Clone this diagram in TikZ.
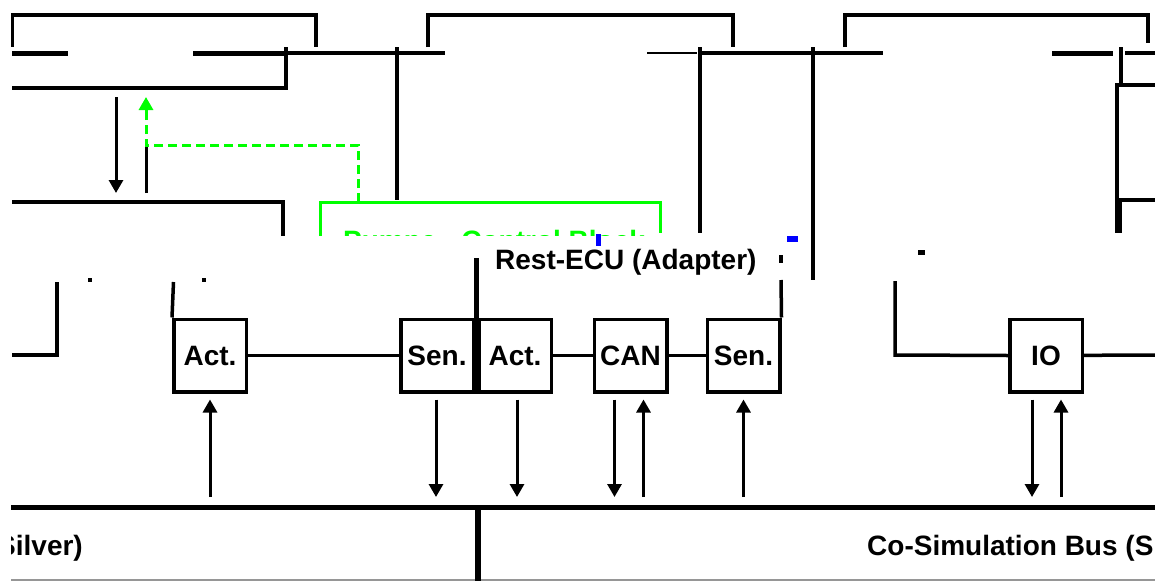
\documentclass[tikz,border=0pt]{standalone}
\usepackage{fontspec}
\setmainfont{Liberation Sans}
\usetikzlibrary{arrows.meta}
\definecolor{lime}{RGB}{0,255,0}
\definecolor{busgray}{RGB}{150,150,150}
\begin{document}
\begin{tikzpicture}[x=1pt,y=-1pt,
  lbl/.style={font=\bfseries\fontsize{28}{30}\selectfont},
  box/.style={draw,line width=3.5pt,minimum width=72.5pt,minimum height=72.5pt,inner sep=0pt,lbl},
  wire/.style={line width=3.5pt},
  fat/.style={line width=5pt},
  sig/.style={line width=3pt,-{Triangle[length=13pt,width=14pt]}},
  gsig/.style={lime,line width=3pt,dash pattern=on 9pt off 5pt}
]
\useasboundingbox (0,0) rectangle (1155,581);
\begin{scope}
\clip (11,0) rectangle (1155,581);
% ---------- top row ----------
\draw[wire] (12,47) -- (12,15) -- (316,15) -- (316,47);
\draw[wire] (428,47) -- (428,15) -- (733,15) -- (733,47);
\draw[wire] (845,47) -- (845,15) -- (1148,15) -- (1148,43);
\draw[fat] (12,53) -- (68,53);
\draw[fat] (193,53) -- (285,53);
\draw[wire] (287,53) -- (395,53);
\draw[wire] (398,53) -- (445,53);
\draw[line width=1.5pt] (647,53) -- (697,53);
\draw[wire] (700,53) -- (812,53);
\draw[wire] (813,53) -- (883,53);
\draw[fat] (1052,53) -- (1113,53);
\draw[wire] (1125,53) -- (1155,53);
\draw[wire] (286,47) -- (286,88) -- (12,88);
\draw[wire] (397,47) -- (397,200);
\draw[wire] (700,47) -- (700,233);
\draw[wire] (813,47) -- (813,280);
\draw[wire] (1121,47) -- (1121,85);
\draw[wire] (1155,85) -- (1117,85) -- (1117,233);
\draw[wire] (1117,200) -- (1155,200);
\draw[line width=6pt] (1119,200) -- (1119,233);
% ---------- top-left arrows ----------
\coordinate (tA) at (116,97);
\coordinate (tB) at (116,193);
\draw[sig] (tA) -- (tB);
\coordinate (gA) at (146,145);
\coordinate (gB) at (146,193);
\draw[line width=3pt] (gB) -- (gA);
% ---------- box B ----------
\draw[wire] (12,202) -- (283,202) -- (283,236);
\draw[wire] (12,355) -- (57,355) -- (57,282);
\fill (88,278) rectangle (92,282);
\fill (202,278) rectangle (206,282);
% ---------- green box ----------
\draw[lime,line width=3pt] (320,236) -- (320,202) -- (660,202) -- (660,233);
\coordinate (gC) at (358,202);
\coordinate (gD) at (146,97);
\draw[gsig] (gC) -- (358,145) -- (gA) -- (146,112);
\draw[lime,line width=3pt,-{Triangle[length=13pt,width=14pt]}] (146,113) -- (gD);
\begin{scope}
\clip (300,190) rectangle (700,235);
\node[lbl,text=lime,anchor=base west,inner sep=0pt] (pump) at (343,250) {Pumpe - Control Block};
\end{scope}
\fill[blue] (596,234) rectangle (601,246);
\fill[blue] (787,236) rectangle (798,242);
\fill (918,250) rectangle (925,255);
% ---------- Rest-ECU ----------
\node[lbl,anchor=base west,inner sep=0pt] (rest) at (495,269) {Rest-ECU (Adapter)};
% ---------- components ----------
\node[box] (act1) at (210,355.5) {Act.};
\node[box] (sen1) at (437,355.5) {Sen.};
\node[box] (act2) at (515,355.5) {Act.};
\node[box] (can)  at (630.5,355.5) {CAN};
\node[box] (sen2) at (743.5,355.5) {Sen.};
\node[box] (io)   at (1046,355.5) {IO};
\draw[line width=5pt] (476,258) -- (476,394);
\draw[wire] (act1) -- (sen1);
\draw[wire] (act2) -- (can);
\draw[wire] (can) -- (sen2);
\draw[wire] (act1.north west) -- (173.5,282);
\draw[wire] (sen2.north east) -- (781,280);
\draw[wire] (781,255) -- (781,263);
\coordinate (ioR) at (1155,355);
\draw[wire] (io) -- (ioR);
\draw[wire] (io.west) -- (895,355) -- (895,281);
% ---------- bus ----------
\coordinate (busy) at (0,497);
\draw[fat] (11,507) -- (1155,507);
\draw[busgray,line width=2pt] (11,580) -- (1155,580);
\draw[line width=6pt] (478,505) -- (478,581);
\node[lbl,anchor=base east,inner sep=0pt] (busL) at (83,555) {Co-Simulation Bus (Silver)};
\node[lbl,anchor=base west,inner sep=0pt] (busR) at (867,555) {Co-Simulation Bus (Silver)};
% ---------- signal arrows ----------
\draw[sig,shorten >=6pt] (act1.south |- busy) -- (act1.south);
\draw[sig,shorten <=6pt] ([xshift=-1pt]sen1.south) -- ([xshift=-1pt]sen1.south |- busy);
\draw[sig,shorten <=6pt] ([xshift=2pt]act2.south) -- ([xshift=2pt]act2.south |- busy);
\draw[sig,shorten <=6pt] ([xshift=-16pt]can.south) -- ([xshift=-16pt]can.south |- busy);
\draw[sig,shorten >=6pt] ([xshift=13pt]can.south |- busy) -- ([xshift=13pt]can.south);
\draw[sig,shorten >=6pt] (sen2.south |- busy) -- (sen2.south);
\draw[sig,shorten <=6pt] ([xshift=-14pt]io.south) -- ([xshift=-14pt]io.south |- busy);
\draw[sig,shorten >=6pt] ([xshift=15pt]io.south |- busy) -- ([xshift=15pt]io.south);
\end{scope}
\end{tikzpicture}
\end{document}
